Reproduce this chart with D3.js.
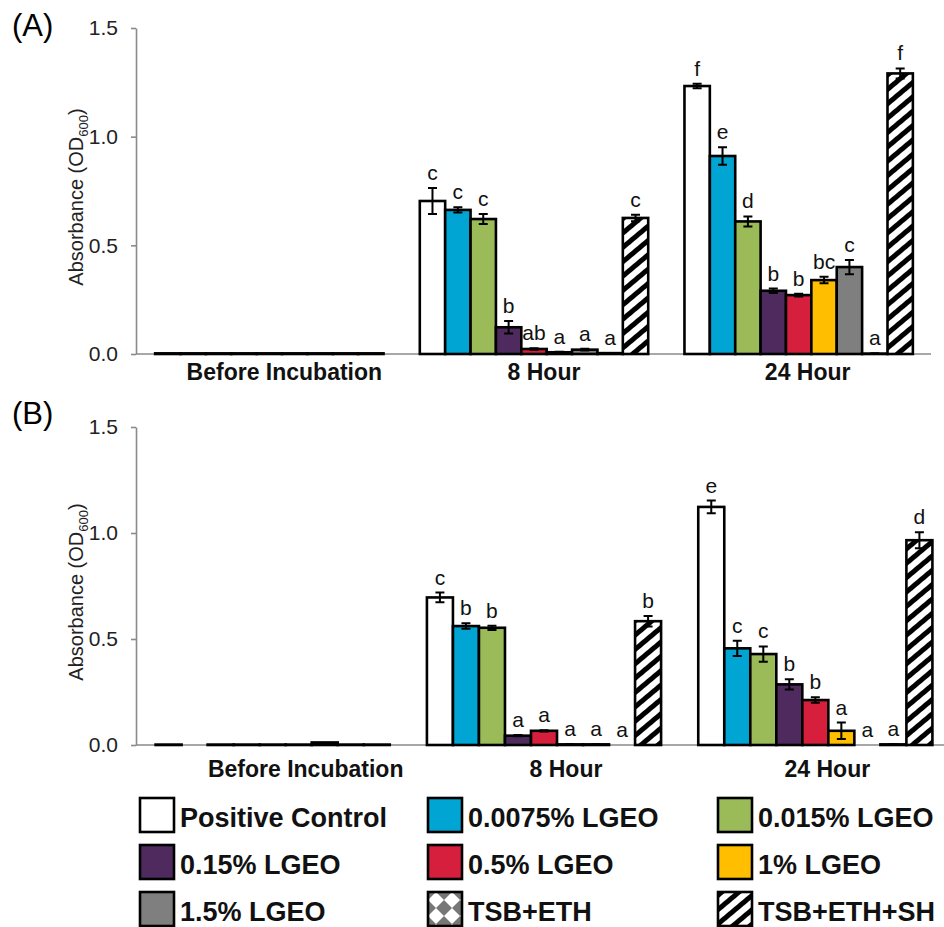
<!DOCTYPE html>
<html>
<head>
<meta charset="utf-8">
<script src="https://cdn.jsdelivr.net/npm/d3@7"></script>
<style>
  body { margin: 0; background: #fff; }
  svg { display: block; font-family: "Liberation Sans", Arial, sans-serif; }
</style>
</head>
<body>
<div id="chart"></div>
<script>
const groups = ["Before Incubation", "8 Hour", "24 Hour"];
const treatments = [
  "Positive Control", "0.0075% LGEO", "0.015% LGEO",
  "0.15% LGEO", "0.5% LGEO", "1% LGEO",
  "1.5% LGEO", "TSB+ETH", "TSB+ETH+SH",
];
const yTicks = [0, 0.5, 1.0, 1.5];

// panel A: one row per group, one value per treatment
const meansA = [
  [0.003, 0.003, 0.003, 0.003, 0.003, 0.003, 0.003, 0.003, 0.003],
  [0.704, 0.663, 0.621, 0.123, 0.023, 0.008, 0.02, 0.004, 0.626],
  [1.233, 0.911, 0.61, 0.291, 0.271, 0.34, 0.4, 0.002, 1.291],
];
const errorsA = [
  [0, 0, 0, 0, 0, 0, 0, 0, 0],
  [0.06, 0.012, 0.023, 0.029, 0.004, 0.002, 0.004, 0.001, 0.015],
  [0.01, 0.04, 0.023, 0.01, 0.006, 0.015, 0.033, 0.001, 0.023],
];
const lettersA = [
  ["", "", "", "", "", "", "", "", ""],
  ["c", "c", "c", "b", "ab", "a", "a", "a", "c"],
  ["f", "e", "d", "b", "b", "bc", "c", "a", "f"],
];

// panel B
const meansB = [
  [0.002, 0, 0.002, 0.002, 0.002, 0.002, 0.012, 0.002, 0.002],
  [0.696, 0.561, 0.553, 0.044, 0.067, 0.003, 0.003, 0, 0.584],
  [1.123, 0.456, 0.429, 0.286, 0.212, 0.067, 0, 0.003, 0.966],
];
const errorsB = [
  [0, 0, 0, 0, 0, 0, 0, 0, 0],
  [0.023, 0.013, 0.01, 0.003, 0.003, 0.001, 0.001, 0, 0.025],
  [0.03, 0.036, 0.036, 0.024, 0.013, 0.039, 0, 0.001, 0.038],
];
const lettersB = [
  ["", "", "", "", "", "", "", "", ""],
  ["c", "b", "b", "a", "a", "a", "a", "a", "b"],
  ["e", "c", "c", "b", "b", "a", "a", "a", "d"],
];

const fills = [
  "#ffffff", "#00a5d3", "#9bbb59",
  "#4e2a5f", "#d61f3c", "#ffbf00",
  "#7f7f7f", "url(#checks)", "url(#hatch)",
];

const W = 944, H = 927;
const axisX = 136;

const panels = [
  { tag: "(A)", tagY: 36, means: meansA, errors: errorsA, letters: lettersA,
    top: 28, bottom: 354, range: [137, 931], axisEnd: 931, labelY: 380,
    nudge: [15, 10, 9] },
  { tag: "(B)", tagY: 424, means: meansB, errors: errorsB, letters: lettersB,
    top: 427, bottom: 745, range: [137, 951], axisEnd: 944, labelY: 777,
    nudge: [33, 22, 12] },
];

const svg = d3.select("#chart").append("svg")
  .attr("width", W)
  .attr("height", H)
  .attr("viewBox", `0 0 ${W} ${H}`);

const defs = svg.append("defs");

const hatch = defs.append("pattern")
  .attr("id", "hatch")
  .attr("patternUnits", "userSpaceOnUse")
  .attr("width", 11)
  .attr("height", 11)
  .attr("patternTransform", "rotate(50)");
hatch.append("rect").attr("width", 11).attr("height", 11).attr("fill", "#fff");
hatch.append("rect").attr("width", 5).attr("height", 11).attr("fill", "#000");

const checks = defs.append("pattern")
  .attr("id", "checks")
  .attr("patternUnits", "userSpaceOnUse")
  .attr("width", 16)
  .attr("height", 16);
checks.append("rect").attr("width", 16).attr("height", 16).attr("fill", "#777");
checks.append("path").attr("d", "M8,0L16,8L8,16L0,8Z").attr("fill", "#fff");

panels.forEach((p) => {
  const y = d3.scaleLinear().domain([0, 1.5]).range([p.bottom, p.top]);

  const x0 = d3.scaleBand()
    .domain(groups)
    .range(p.range)
    .paddingInner(0.137)
    .paddingOuter(0.0685);

  const x1 = d3.scaleBand()
    .domain(treatments)
    .range([0, x0.bandwidth()]);

  const g = svg.append("g");

  // panel tag
  g.append("text")
    .attr("x", 12)
    .attr("y", p.tagY)
    .attr("font-size", 31)
    .text(p.tag);

  // x axis line + category labels
  const xAxis = g.append("g")
    .attr("transform", `translate(0,${p.bottom})`)
    .call(d3.axisBottom(x0).tickSize(0).tickSizeOuter(0));
  xAxis.select(".domain")
    .attr("d", `M${axisX},0H${p.axisEnd}`)
    .attr("stroke", "#8a8a8a")
    .attr("stroke-width", 1.6);
  xAxis.selectAll(".tick text")
    .attr("font-family", "Liberation Sans, Arial, sans-serif")
    .attr("font-size", 23)
    .attr("font-weight", "bold")
    .attr("fill", "#111")
    .attr("dy", null)
    .attr("y", p.labelY - p.bottom)
    .attr("x", (d, i) => p.nudge[i]);

  // y axis
  const yAxis = g.append("g")
    .attr("transform", `translate(${axisX},0)`)
    .call(d3.axisLeft(y)
      .tickValues(yTicks)
      .tickFormat(d3.format(".1f"))
      .tickSize(5)
      .tickSizeOuter(0)
      .tickPadding(13));
  yAxis.select(".domain").attr("stroke", "#8a8a8a").attr("stroke-width", 1.6);
  yAxis.selectAll(".tick line").attr("stroke", "#8a8a8a").attr("stroke-width", 1.6);
  yAxis.selectAll(".tick text")
    .attr("font-family", "Liberation Sans, Arial, sans-serif")
    .attr("font-size", 21)
    .attr("fill", "#222");

  // y axis title
  const midY = (p.top + p.bottom) / 2 + 6;
  const title = g.append("text")
    .attr("transform", `translate(83,${midY}) rotate(-90)`)
    .attr("text-anchor", "middle")
    .attr("font-size", 20)
    .attr("fill", "#222");
  title.append("tspan").text("Absorbance (OD");
  title.append("tspan").attr("font-size", 13).attr("dy", 5).text("600");
  title.append("tspan").attr("dy", -5).text(")");

  // bars
  const rows = groups.flatMap((grp, gi) =>
    treatments.map((t, ti) => ({
      group: grp,
      treatment: t,
      ti,
      value: p.means[gi][ti],
      err: p.errors[gi][ti],
      letter: p.letters[gi][ti],
    })));

  const cell = g.append("g").selectAll("g")
    .data(rows)
    .join("g")
    .attr("transform", (d) => `translate(${x0(d.group) + x1(d.treatment)},0)`);

  cell.append("rect")
    .attr("x", 0)
    .attr("y", (d) => y(d.value))
    .attr("width", x1.bandwidth())
    .attr("height", (d) => y(0) - y(d.value))
    .attr("fill", (d) => fills[d.ti])
    .attr("stroke", "#000")
    .attr("stroke-width", 2.6);

  const cx = x1.bandwidth() / 2;
  const withErr = cell.filter((d) => d.err > 0);
  withErr.append("path")
    .attr("d", (d) => {
      const lo = y(d.value - d.err), hi = y(d.value + d.err);
      return `M${cx},${lo}V${hi}M${cx - 4.5},${lo}H${cx + 4.5}M${cx - 4.5},${hi}H${cx + 4.5}`;
    })
    .attr("fill", "none")
    .attr("stroke", "#000")
    .attr("stroke-width", 2);

  cell.filter((d) => d.letter)
    .append("text")
    .attr("x", cx)
    .attr("y", (d) => y(d.value + d.err) - 8)
    .attr("text-anchor", "middle")
    .attr("font-size", 21)
    .attr("fill", "#111")
    .text((d) => d.letter);
});

// legend, three per row
const legend = svg.append("g").selectAll("g")
  .data(treatments)
  .join("g")
  .attr("transform", (d, i) => `translate(${[140, 428, 718][i % 3]},${798 + Math.floor(i / 3) * 47})`);

legend.append("rect")
  .attr("width", 34)
  .attr("height", 34)
  .attr("fill", (d, i) => fills[i])
  .attr("stroke", "#000")
  .attr("stroke-width", 2.6);

legend.append("text")
  .attr("x", 40)
  .attr("y", 29)
  .attr("font-size", 27)
  .attr("font-weight", "bold")
  .attr("fill", "#111")
  .text((d) => d);
</script>
</body>
</html>
